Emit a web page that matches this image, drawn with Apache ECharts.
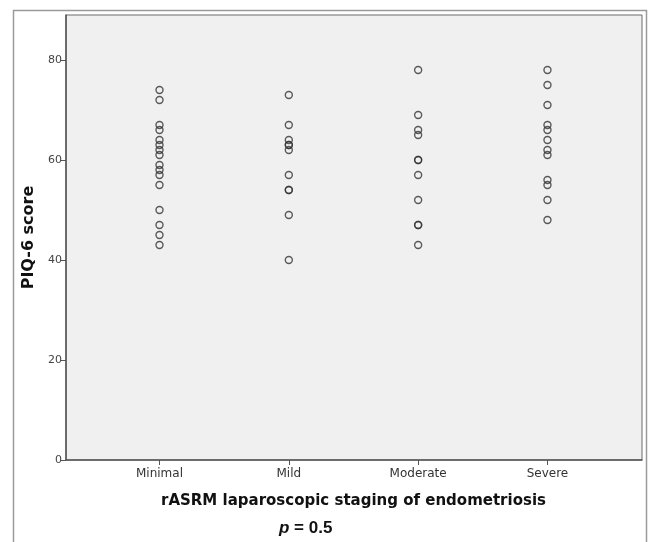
<!DOCTYPE html>
<html>
<head>
<meta charset="utf-8">
<script src="https://cdn.jsdelivr.net/npm/echarts@6/dist/echarts.min.js"></script>
<style>
  html, body { margin: 0; padding: 0; background: #fff; }
  #main { width: 649px; height: 542px; }
</style>
</head>
<body>
<div id="main"></div>
<script>
// stages on the x axis (positions 1..4)
var stages = ["Minimal", "Mild", "Moderate", "Severe"];
// PIQ-6 scores
var minimal = [74, 72, 67, 66, 64, 63, 62, 61, 59, 58, 57, 55, 50, 47, 45, 43];
var mild = [73, 67, 64, 63, 63, 62, 57, 54, 54, 49, 40];
var moderate = [78, 69, 66, 65, 60, 60, 57, 52, 47, 47, 43];
var severe = [78, 75, 71, 67, 66, 64, 62, 61, 56, 55, 52, 48];
var yTicks = [0, 20, 40, 60, 80];

var groups = [minimal, mild, moderate, severe];
var points = [];
groups.forEach(function (g, i) {
  g.forEach(function (v) {
    points.push([i + 1, v]);
  });
});

var myChart = echarts.init(document.getElementById("main"));
myChart.setOption({
  animation: false,
  backgroundColor: "#fff",
  grid: {
    left: 66,
    right: 7,
    top: 15,
    bottom: 82,
    show: true,
    backgroundColor: "#f0f0f0",
    borderColor: "#6a6a6a",
    borderWidth: 1
  },
  xAxis: {
    type: "value",
    min: 0.277,
    max: 4.731,
    axisLine: { show: true, onZero: false, lineStyle: { color: "#555", width: 1.5 } },
    axisTick: {
      show: true,
      customValues: [1, 2, 3, 4],
      length: 5,
      lineStyle: { color: "#555" }
    },
    axisLabel: {
      customValues: [1, 2, 3, 4],
      formatter: function (v) { return stages[Math.round(v) - 1]; },
      color: "#333",
      fontFamily: "DejaVu Sans",
      fontSize: 12,
      margin: 8
    },
    splitLine: { show: false }
  },
  yAxis: {
    type: "value",
    min: 0,
    max: 89,
    axisLine: { show: true, lineStyle: { color: "#555", width: 1.5 } },
    axisTick: {
      show: true,
      customValues: yTicks,
      length: 5,
      lineStyle: { color: "#555" }
    },
    axisLabel: {
      customValues: yTicks,
      color: "#444",
      fontFamily: "DejaVu Sans",
      fontSize: 11,
      margin: 4
    },
    splitLine: { show: false },
    name: "PIQ-6 score",
    nameLocation: "middle",
    nameGap: 29,
    nameTextStyle: {
      color: "#111",
      fontFamily: "DejaVu Sans",
      fontWeight: "bold",
      fontSize: 16
    }
  },
  graphic: [
    {
      type: "polyline",
      shape: { points: [[13.5, 542], [13.5, 10.5], [646.5, 10.5], [646.5, 542]] },
      style: { stroke: "#9a9a9a", lineWidth: 1.5, fill: null },
      silent: true
    },
    {
      type: "text",
      left: 161,
      top: 494,
      style: {
        text: "rASRM laparoscopic staging of endometriosis",
        fill: "#111",
        font: "bold 15px 'DejaVu Sans'"
      }
    },
    {
      type: "text",
      left: 279,
      top: 520,
      style: {
        text: "{i|p} = 0.5",
        fill: "#111",
        font: "bold 17px 'Liberation Sans'",
        rich: {
          i: { font: "italic bold 17px 'Liberation Sans'", fill: "#111" }
        }
      }
    }
  ],
  series: [
    {
      type: "scatter",
      data: points,
      symbol: "circle",
      symbolSize: 7,
      itemStyle: {
        color: "rgba(0,0,0,0)",
        borderColor: "#333",
        borderWidth: 1.4
      }
    }
  ]
});
</script>
</body>
</html>
